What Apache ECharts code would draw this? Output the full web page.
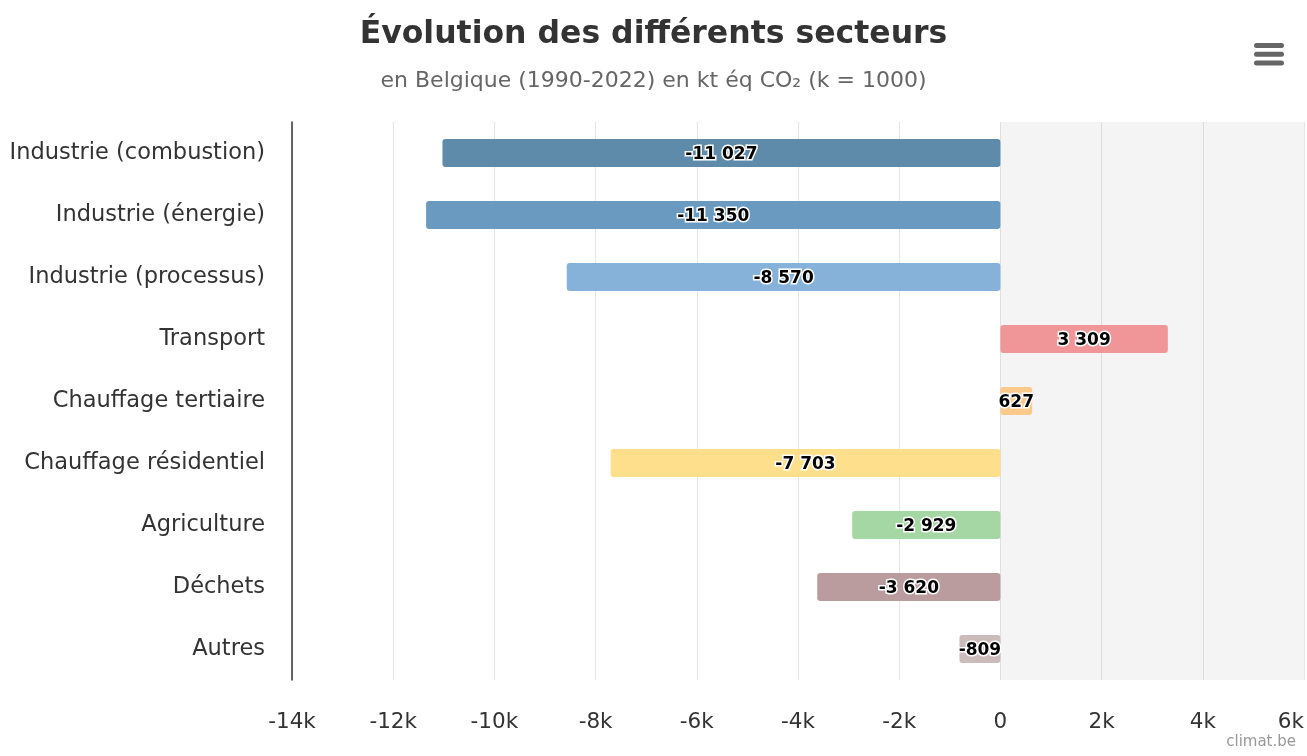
<!DOCTYPE html>
<html><head><meta charset="utf-8">
<script src="https://cdn.jsdelivr.net/npm/echarts@6/dist/echarts.min.js"></script>
<style>html,body{margin:0;padding:0;background:#fff}#c{width:1307px;height:756px}</style>
</head><body><div id="c"></div>
<script>
var categories = ['Industrie (combustion)','Industrie (énergie)','Industrie (processus)','Transport','Chauffage tertiaire','Chauffage résidentiel','Agriculture','Déchets','Autres'];
var values = [-11027, -11350, -8570, 3309, 627, -7703, -2929, -3620, -809];
var colors = ['#5f8bab','#6b9ac0','#86b1d8','#f09699','#fbc98a','#fedf8c','#a5d7a5','#bb9c9e','#cbbbbb'];
var xTicks = {min: -14000, max: 6000, interval: 2000};

function fmt(v){
  var s = Math.abs(v).toString().replace(/\B(?=(\d{3})+(?!\d))/g, ' ');
  return (v < 0 ? '-' : '') + s;
}
var font = '"DejaVu Sans", Arial, sans-serif';
var chart = echarts.init(document.getElementById('c'));
chart.setOption({
  animation: false,
  backgroundColor: '#fff',
  title: [{
    text: 'Évolution des différents secteurs',
    subtext: 'en Belgique (1990-2022) en kt éq CO₂ (k = 1000)',
    left: 'center', top: 14, itemGap: 19,
    textStyle: {fontFamily: font, fontSize: 31.5, fontWeight: 'bold', color: '#333'},
    subtextStyle: {fontFamily: font, fontSize: 22, color: '#666'}
  },{
    text: 'climat.be', right: 6, bottom: 1,
    textStyle: {fontFamily: font, fontSize: 15, fontWeight: 'normal', color: '#999'}
  }],
  toolbox: {
    right: 8, top: 28, itemSize: 30,
    feature: {
      myMenu: {
        show: true, title: 'Menu',
        icon: 'path://M2,3 L22,3 Q24,3 24,5 Q24,7 22,7 L2,7 Q0,7 0,5 Q0,3 2,3 Z M2,10 L22,10 Q24,10 24,12 Q24,14 22,14 L2,14 Q0,14 0,12 Q0,10 2,10 Z M2,17 L22,17 Q24,17 24,19 Q24,21 22,21 L2,21 Q0,21 0,19 Q0,17 2,17 Z',
        onclick: function(){}
      }
    },
    iconStyle: {color: '#666', borderWidth: 0},
    emphasis: {iconStyle: {color: '#333', borderWidth: 0, textFill: 'transparent'}}
  },
  grid: {left: 292, right: 1, top: 122, bottom: 76},
  xAxis: {
    type: 'value', min: xTicks.min, max: xTicks.max, interval: xTicks.interval,
    axisLine: {show: false}, axisTick: {show: false},
    splitLine: {lineStyle: {color: '#e6e6e6', width: 1}},
    axisLabel: {
      fontFamily: font, fontSize: 21.5, color: '#333', margin: 31,
      alignMaxLabel: 'right',
      formatter: function(v){ return v === 0 ? '0' : (v/1000) + 'k'; }
    }
  },
  yAxis: {
    type: 'category', data: categories, inverse: true,
    axisLine: {show: true, onZero: false, lineStyle: {color: '#333', width: 1.5}},
    axisTick: {show: false},
    axisLabel: {fontFamily: font, fontSize: 22.5, color: '#333', margin: 27}
  },
  series: [{
    type: 'bar',
    barWidth: 28,
    data: values.map(function(v, i){
      return {value: v, itemStyle: {color: colors[i], borderRadius: 3}};
    }),
    label: {
      show: true, position: 'inside', offset: [0, 2],
      fontFamily: font, fontSize: 17, fontWeight: 'bold', color: '#000',
      textBorderColor: '#fff', textBorderWidth: 3,
      formatter: function(p){ return fmt(p.value); }
    },
    markArea: {
      silent: true,
      itemStyle: {color: 'rgba(0,0,0,0.045)'},
      data: [[{xAxis: 0}, {xAxis: xTicks.max}]]
    }
  }]
});
</script></body></html>
